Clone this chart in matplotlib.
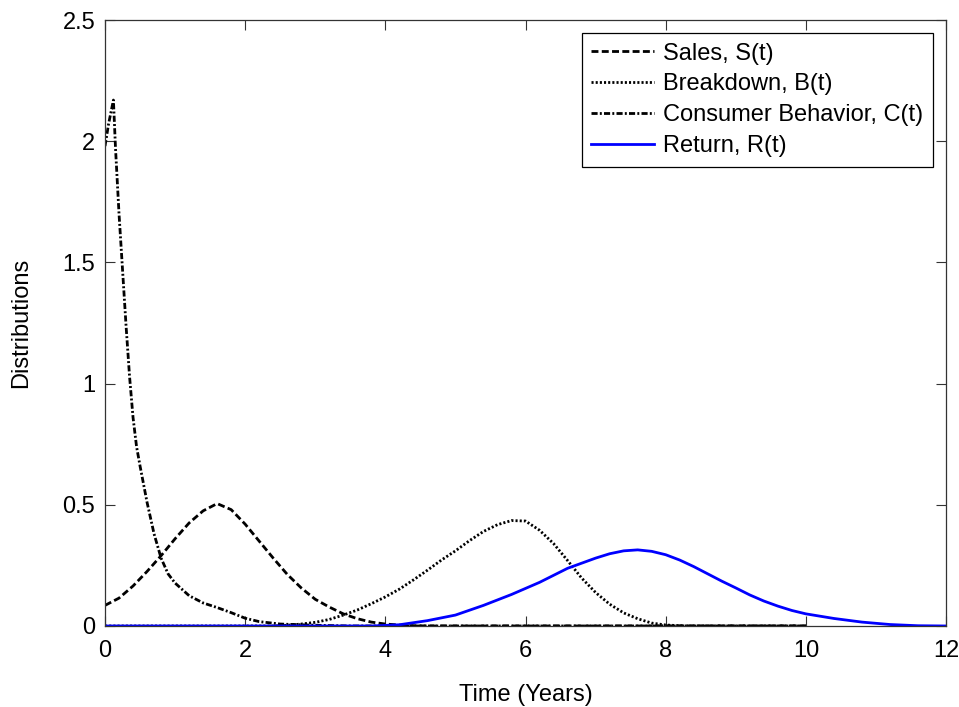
import matplotlib
matplotlib.use("Agg")
import matplotlib.pyplot as plt
from matplotlib.ticker import FixedLocator, FuncFormatter

plt.rcParams["font.family"] = ["Liberation Sans", "DejaVu Sans"]

# Sales, S(t)
t_sales = [0.0, 0.2, 0.4, 0.6, 0.8, 1.0, 1.2, 1.4, 1.6, 1.8, 2.0, 2.2, 2.4,
           2.6, 2.8, 3.0, 3.2, 3.4, 3.6, 3.8, 4.0, 4.3, 4.6, 10.0]
sales = [0.085, 0.115, 0.165, 0.225, 0.29, 0.36, 0.425, 0.475, 0.505, 0.48,
         0.42, 0.35, 0.28, 0.213, 0.157, 0.11, 0.078, 0.05, 0.03, 0.016,
         0.008, 0.002, 0.0, 0.0]

# Breakdown, B(t)
t_break = [0.0, 2.4, 2.6, 2.8, 3.0, 3.2, 3.4, 3.6, 3.8, 4.0, 4.2, 4.4, 4.6,
           4.8, 5.0, 5.2, 5.4, 5.6, 5.8, 6.0, 6.2, 6.4, 6.6, 6.8, 7.0, 7.2,
           7.4, 7.6, 7.8, 8.0, 8.3, 10.0]
breakdown = [0.0, 0.0, 0.003, 0.008, 0.015, 0.027, 0.045, 0.066, 0.092, 0.12,
             0.152, 0.19, 0.23, 0.272, 0.31, 0.352, 0.39, 0.418, 0.435, 0.433,
             0.395, 0.34, 0.27, 0.198, 0.138, 0.09, 0.054, 0.03, 0.012, 0.004,
             0.0, 0.0]

# Consumer Behavior, C(t)
t_cons = [0.0, 0.05, 0.12, 0.15, 0.2, 0.25, 0.3, 0.35, 0.4, 0.45, 0.5, 0.6,
          0.7, 0.8, 0.9, 1.0, 1.2, 1.4, 1.6, 1.8, 2.0, 2.2, 2.5, 3.0, 3.5,
          10.0]
consumer = [1.98, 2.07, 2.17, 1.97, 1.70, 1.47, 1.24, 1.03, 0.86, 0.74, 0.66,
            0.51, 0.38, 0.28, 0.215, 0.177, 0.125, 0.095, 0.076, 0.055, 0.032,
            0.018, 0.008, 0.003, 0.0, 0.0]

# Return, R(t)
t_ret = [0.0, 3.8, 4.2, 4.6, 5.0, 5.4, 5.8, 6.2, 6.6, 7.0, 7.2, 7.4, 7.6,
         7.8, 8.0, 8.2, 8.4, 8.6, 8.8, 9.0, 9.2, 9.4, 9.6, 9.8, 10.0, 10.4,
         10.8, 11.2, 11.6, 12.0]
ret = [0.0, 0.0, 0.005, 0.022, 0.045, 0.085, 0.13, 0.18, 0.238, 0.28, 0.298,
       0.31, 0.314, 0.308, 0.294, 0.272, 0.245, 0.215, 0.185, 0.157, 0.128,
       0.103, 0.082, 0.064, 0.05, 0.031, 0.016, 0.006, 0.001, 0.0]

labels = ["Sales, S(t)", "Breakdown, B(t)", "Consumer Behavior, C(t)",
          "Return, R(t)"]
x_ticks = [0, 2, 4, 6, 8, 10, 12]
y_ticks = [0, 0.5, 1, 1.5, 2, 2.5]

fig = plt.figure(figsize=(9.59, 7.07), dpi=100)
ax = fig.add_axes([0.1095, 0.1146, 0.877, 0.857])

lw = 2.0
ax.plot(t_sales, sales, color="black", lw=lw, linestyle=(0, (2.5, 1.2)),
        label=labels[0])
ax.plot(t_break, breakdown, color="black", lw=lw, linestyle=(0, (0.75, 0.75)),
        label=labels[1])
ax.plot(t_cons, consumer, color="black", lw=lw,
        linestyle=(0, (2.2, 0.8, 0.7, 0.8)), label=labels[2])
ax.plot(t_ret, ret, color="#0000ff", lw=lw, linestyle="-", label=labels[3])

ax.set_xlim(0, 12)
ax.set_ylim(0, 2.5)
ax.xaxis.set_major_locator(FixedLocator(x_ticks))
ax.yaxis.set_major_locator(FixedLocator(y_ticks))
ax.yaxis.set_major_formatter(FuncFormatter(lambda v, p: "%g" % v))
ax.xaxis.set_major_formatter(FuncFormatter(lambda v, p: "%g" % v))

ax.tick_params(direction="in", length=7, width=0.8, top=True, right=True,
               labelsize=17, colors="#333333", labelcolor="black")
ax.tick_params(axis="x", pad=10)
ax.tick_params(axis="y", pad=7)
for s in ax.spines.values():
    s.set_color("#333333")
    s.set_linewidth(0.9)

ax.set_xlabel("Time (Years)", fontsize=17, labelpad=16)
ax.set_ylabel("Distributions", fontsize=17, labelpad=22)

leg = ax.legend(loc="upper right", fontsize=17, frameon=True, fancybox=False,
                edgecolor="black", framealpha=1, handlelength=2.65,
                handletextpad=0.4, labelspacing=0.38, borderpad=0.4,
                borderaxespad=0.55)
leg.get_frame().set_linewidth(0.9)

fig.savefig("out.png", dpi=100)
